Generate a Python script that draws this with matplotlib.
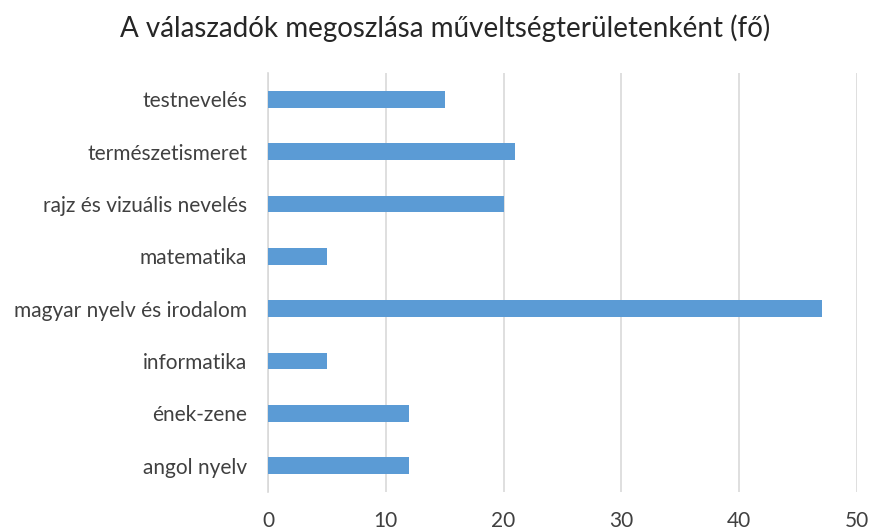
import matplotlib
matplotlib.use("Agg")
import matplotlib.pyplot as plt

categories = ["angol nyelv", "ének-zene", "informatika", "magyar nyelv és irodalom",
              "matematika", "rajz és vizuális nevelés", "természetismeret", "testnevelés"]
values = [12, 12, 5, 47, 5, 20, 21, 15]
xticks = [0, 10, 20, 30, 40, 50]

plt.rcParams['font.family'] = ['Lato', 'DejaVu Sans']

fig = plt.figure(figsize=(8.73, 5.31), dpi=100)
ax = fig.add_axes([268/873, 1-492/531, (857-268)/873, (492-73)/531])

ax.barh(range(len(categories)), values, height=0.32, color="#5b9bd5", zorder=3)
ax.set_xlim(0, 50)
ax.set_ylim(-0.5, len(categories)-0.5)
ax.set_xticks(xticks)
ax.set_xticklabels([str(t) for t in xticks])
ax.set_yticks(range(len(categories)))
ax.set_yticklabels(categories)
ax.grid(axis="x", color="#d9d9d9", linewidth=1.2, zorder=0)
for s in ["top", "right", "bottom"]:
    ax.spines[s].set_visible(False)
ax.spines["left"].set_color("#d9d9d9")
ax.spines["left"].set_linewidth(1.2)
ax.tick_params(axis="both", length=0, colors="#595959", labelsize=15)
ax.tick_params(axis="x", pad=14)
ax.tick_params(axis="y", pad=15)
for lbl in ax.get_xticklabels() + ax.get_yticklabels():
    lbl.set_color("#404040")

fig.text(445/873, 1-28/531, "A válaszadók megoszlása műveltségterületenként (fő)",
         ha="center", va="center", fontsize=20, color="#262626")

fig.savefig("out.png", dpi=100)
